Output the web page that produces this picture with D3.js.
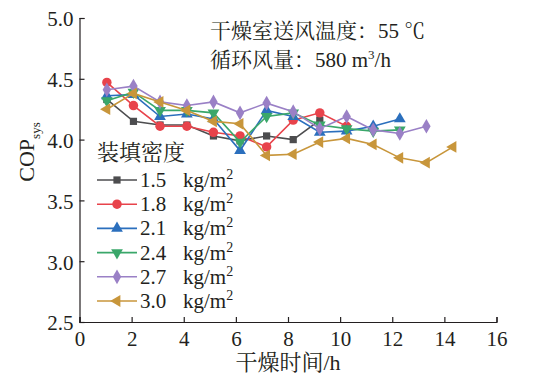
<!DOCTYPE html>
<html>
<head>
<meta charset="utf-8">
<script src="https://cdn.jsdelivr.net/npm/d3@7"></script>
<style>
  html, body { margin: 0; padding: 0; background: #fff; }
  svg text { font-family: "Liberation Serif", "Times New Roman", "Noto Serif CJK SC", "Noto Sans CJK SC", serif; fill: #231f20; }
</style>
</head>
<body>
<svg id="chart" width="534" height="380"></svg>
<script>
// Drying time of each sampling point (h)
const hours = [1.05, 2.07, 3.09, 4.12, 5.14, 6.16, 7.18, 8.2, 9.22, 10.25, 11.27, 12.29, 13.31, 14.33];

// System COP for each loading density
const density = ["1.5", "1.8", "2.1", "2.4", "2.7", "3.0"];
const cop15 = [4.33, 4.15, 4.12, 4.12, 4.03, 3.99, 4.03, 4.00, 4.16];
const cop18 = [4.47, 4.28, 4.11, 4.11, 4.06, 4.03, 3.94, 4.16, 4.22, 4.11];
const cop21 = [4.36, 4.37, 4.19, 4.21, 4.17, 3.91, 4.24, 4.19, 4.06, 4.07, 4.11, 4.17];
const cop24 = [4.32, 4.39, 4.24, 4.24, 4.22, 3.98, 4.19, 4.22, 4.12, 4.09, 4.07, 4.08];
const cop27 = [4.41, 4.44, 4.31, 4.28, 4.31, 4.22, 4.30, 4.23, 4.09, 4.19, 4.08, 4.05, 4.11];
const cop30 = [4.25, 4.38, 4.31, 4.24, 4.15, 4.13, 3.87, 3.88, 3.98, 4.01, 3.96, 3.85, 3.81, 3.94];

// Axis ticks
const xTicks = [0, 2, 4, 6, 8, 10, 12, 14, 16];
const yTicks = [2.5, 3.0, 3.5, 4.0, 4.5, 5.0];

const series = [
  { name: density[0], values: cop15, color: "#4d4d4f", symbol: d3.symbolSquare, size: 52, rot: 0 },
  { name: density[1], values: cop18, color: "#e8434b", symbol: d3.symbolCircle, size: 70, rot: 0 },
  { name: density[2], values: cop21, color: "#2b6fbd", symbol: d3.symbolTriangle, size: 60, rot: 0 },
  { name: density[3], values: cop24, color: "#3aa76a", symbol: d3.symbolTriangle, size: 60, rot: 180 },
  { name: density[4], values: cop27, color: "#9a80c6", symbol: d3.symbolDiamond, size: 62, rot: 0 },
  { name: density[5], values: cop30, color: "#c8963b", symbol: d3.symbolTriangle, size: 60, rot: -90 }
];

const svg = d3.select("#chart");
const x = d3.scaleLinear().domain([0, 16]).range([79.5, 496.5]);
const y = d3.scaleLinear().domain([2.5, 5.0]).range([322, 18]);

// Axes with inward ticks
const xAxis = d3.axisBottom(x).tickValues(xTicks).tickSize(-5).tickPadding(9).tickFormat(d3.format("d"));
const yAxis = d3.axisLeft(y).tickValues(yTicks).tickSize(-5).tickPadding(6).tickFormat(d3.format(".1f"));

const gx = svg.append("g").attr("transform", `translate(0,${y(2.5)})`).call(xAxis);
const gy = svg.append("g").attr("transform", `translate(${x(0)},0)`).call(yAxis);
[gx, gy].forEach(g => {
  g.select(".domain").attr("stroke", "#231f20").attr("stroke-width", 1.2);
  g.selectAll(".tick line").attr("stroke", "#231f20").attr("stroke-width", 1.2);
  g.selectAll(".tick text").style("font-size", "21px").attr("fill", "#231f20");
});
gx.selectAll(".tick text").attr("dy", "0.71em");
gy.selectAll(".tick text").attr("dy", "0.38em");

// Series lines and markers
const line = d3.line().x((d, i) => x(hours[i])).y(d => y(d));
series.forEach(s => {
  svg.append("path")
    .datum(s.values)
    .attr("d", line)
    .attr("fill", "none")
    .attr("stroke", s.color)
    .attr("stroke-width", 1.6);
  svg.append("g").selectAll("path")
    .data(s.values)
    .join("path")
    .attr("d", d3.symbol().type(s.symbol).size(s.size))
    .attr("transform", (d, i) => `translate(${x(hours[i])},${y(d)}) rotate(${s.rot})`)
    .attr("fill", s.color);
});

// Legend
const lg = svg.append("g");
lg.append("text").attr("x", 97).attr("y", 160).style("font-size", "22px").text("装填密度");
series.forEach((s, i) => {
  const cy = 180 + i * 24.2;
  lg.append("line").attr("x1", 97).attr("x2", 137).attr("y1", cy).attr("y2", cy)
    .attr("stroke", s.color).attr("stroke-width", 1.6);
  lg.append("path").attr("d", d3.symbol().type(s.symbol).size(s.size))
    .attr("transform", `translate(117,${cy}) rotate(${s.rot})`).attr("fill", s.color);
  lg.append("text").attr("x", 140).attr("y", cy + 7).style("font-size", "21px").text(s.name);
  const t = lg.append("text").attr("x", 183).attr("y", cy + 7).style("font-size", "21px");
  t.append("tspan").text("kg/m");
  t.append("tspan").attr("dy", -8).style("font-size", "14px").text("2");
});

// Operating conditions
svg.append("text").attr("x", 210).attr("y", 38).style("font-size", "21px").text("干燥室送风温度：55 ℃");
const cond = svg.append("text").attr("x", 210).attr("y", 67).style("font-size", "21px");
cond.append("tspan").text("循环风量：580 m");
cond.append("tspan").attr("dy", -8).style("font-size", "13px").text("3");
cond.append("tspan").attr("dy", 8).text("/h");

// Axis titles
svg.append("text").attr("x", x(8)).attr("y", 370).attr("text-anchor", "middle")
  .style("font-size", "22px").text("干燥时间/h");
const yl = svg.append("text").attr("transform", "translate(34,152) rotate(-90)")
  .attr("text-anchor", "middle").style("font-size", "22px");
yl.append("tspan").text("COP");
yl.append("tspan").attr("dy", 6).style("font-size", "13px").text("sys");
</script>
</body>
</html>
